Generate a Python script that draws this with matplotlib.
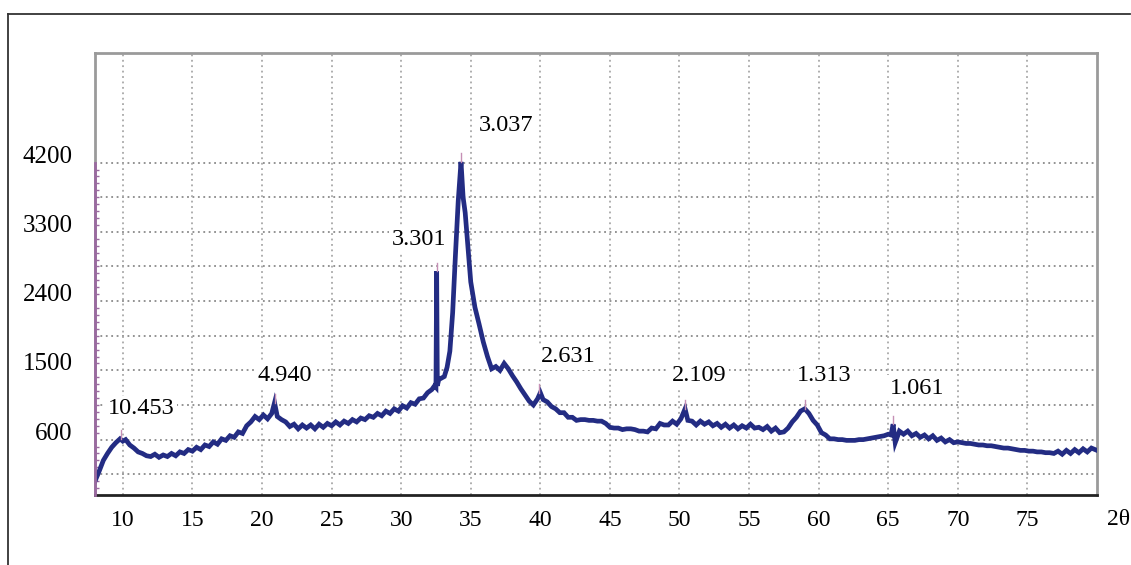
import matplotlib
matplotlib.use("Agg")
import matplotlib.pyplot as plt
from matplotlib.lines import Line2D
import numpy as np

# pattern (2theta, counts)
two_theta = [8.0, 8.3, 8.6, 8.9, 9.2, 9.5, 9.8, 10.0, 10.2, 10.5, 10.8, 11.1, 11.4, 11.7, 12.0,
             12.3, 12.6, 12.9, 13.2, 13.5, 13.8, 14.1, 14.4, 14.7, 15.0, 15.3, 15.6, 15.9, 16.2,
             16.5, 16.8, 17.1, 17.4, 17.7, 18.0, 18.3, 18.6, 18.9, 19.2, 19.5, 19.8, 20.1, 20.4,
             20.7, 20.9, 21.1, 21.4, 21.7, 22.0, 22.3, 22.6, 22.9, 23.2, 23.5, 23.8, 24.1, 24.4,
             24.7, 25.0, 25.3, 25.6, 25.9, 26.2, 26.5, 26.8, 27.1, 27.4, 27.7, 28.0, 28.3, 28.6,
             28.9, 29.2, 29.5, 29.8, 30.1, 30.4, 30.7, 31.0, 31.3, 31.6, 31.9, 32.2, 32.4, 32.5,
             32.55, 32.6, 32.7, 32.9, 33.1, 33.3, 33.5, 33.7, 33.9, 34.1, 34.3, 34.45, 34.6, 34.8,
             35.0, 35.3, 35.6, 35.9, 36.2, 36.5, 36.8, 37.1, 37.4, 37.7, 38.0, 38.3, 38.6, 38.9,
             39.2, 39.5, 39.8, 40.0, 40.2, 40.5, 40.8, 41.1, 41.4, 41.7, 42.0, 42.3, 42.6, 42.9,
             43.2, 43.5, 43.8, 44.1, 44.4, 44.7, 45.0, 45.3, 45.6, 45.9, 46.2, 46.5, 46.8, 47.1,
             47.4, 47.7, 48.0, 48.3, 48.6, 48.9, 49.2, 49.5, 49.8, 50.1, 50.4, 50.6, 50.9, 51.2,
             51.5, 51.8, 52.1, 52.4, 52.7, 53.0, 53.3, 53.6, 53.9, 54.2, 54.5, 54.8, 55.1, 55.4,
             55.7, 56.0, 56.3, 56.6, 56.9, 57.2, 57.5, 57.8, 58.1, 58.4, 58.7, 59.0, 59.3, 59.6,
             59.9, 60.2, 60.5, 60.8, 61.1, 61.4, 61.7, 62.0, 62.3, 62.6, 62.9, 63.2, 63.5, 63.8,
             64.1, 64.4, 64.7, 65.0, 65.2, 65.35, 65.5, 65.8, 66.1, 66.4, 66.7, 67.0, 67.3, 67.6,
             67.9, 68.2, 68.5, 68.8, 69.1, 69.4, 69.7, 70.0, 70.3, 70.6, 70.9, 71.2, 71.5, 71.8,
             72.1, 72.4, 72.7, 73.0, 73.3, 73.6, 73.9, 74.2, 74.5, 74.8, 75.1, 75.4, 75.7, 76.0,
             76.3, 76.6, 76.9, 77.2, 77.5, 77.8, 78.1, 78.4, 78.7, 79.0, 79.3, 79.6, 80.0]
counts = [60, 190, 330, 420, 500, 560, 610, 580, 600, 530, 490, 440, 420, 390, 380,
          410, 370, 400, 380, 420, 390, 440, 420, 470, 450, 500, 470, 530, 510,
          570, 540, 610, 590, 650, 630, 700, 680, 780, 830, 900, 860, 920, 870,
          940, 1080, 900, 860, 830, 770, 800, 740, 790, 750, 790, 740, 800, 760,
          810, 780, 830, 790, 840, 810, 860, 830, 880, 860, 910, 890, 940, 910,
          970, 940, 1000, 970, 1040, 1010, 1080, 1060, 1130, 1140, 1210, 1250, 1300, 1280,
          2790, 1300, 1380, 1400, 1420, 1540, 1750, 2250, 3000, 3700, 4210, 3750, 3550, 3100,
          2650, 2320, 2100, 1870, 1680, 1520, 1550, 1500, 1590, 1520, 1430, 1350, 1260, 1180,
          1100, 1050, 1130, 1210, 1120, 1090, 1030, 1000, 950, 950, 890, 890, 850, 860,
          860, 850, 850, 840, 840, 810, 760, 750, 750, 730, 740, 740, 730, 710,
          710, 700, 750, 740, 810, 790, 790, 840, 800, 870, 1000, 850, 840, 790,
          840, 800, 830, 780, 810, 760, 800, 750, 790, 740, 780, 750, 800, 750,
          760, 730, 770, 710, 750, 690, 700, 750, 830, 890, 970, 1000, 940, 850,
          790, 690, 660, 610, 610, 600, 600, 590, 590, 590, 600, 600, 610, 620,
          630, 640, 650, 670, 660, 800, 560, 710, 670, 710, 650, 680, 630, 660,
          610, 650, 590, 620, 570, 600, 560, 570, 560, 550, 550, 540, 530, 530,
          520, 520, 510, 500, 490, 490, 480, 470, 460, 460, 450, 450, 440, 440,
          430, 430, 420, 450, 410, 460, 420, 470, 430, 480, 440, 490, 460]

peak_labels = ["10.453", "4.940", "3.301", "3.037", "2.631", "2.109", "1.313", "1.061"]
label_x = [11.3, 21.6, 31.3, 37.55, 42.0, 51.4, 60.4, 67.05]
label_y = [1000, 1430, 3200, 4680, 1675, 1430, 1430, 1270]
peak_marks_x = [9.9, 20.9, 32.55, 34.3, 39.9, 50.4, 59.0, 65.35]
peak_marks_y = [610, 1080, 2790, 4210, 1210, 1000, 1000, 800]

x_ticks = list(range(10, 80, 5))
y_ticks = [600, 1500, 2400, 3300, 4200]
y_grid = list(range(150, 4201, 450))

plt.rcParams['font.family'] = ['Liberation Serif', 'DejaVu Serif']

fig = plt.figure(figsize=(11.31, 5.65), dpi=100)
ax = fig.add_axes([95 / 1131, 1 - 495 / 565, (1097 - 95) / 1131, (495 - 53) / 565])

# outer frame (top and left)
fig.add_artist(Line2D([8 / 1131, 1130 / 1131], [1 - 14 / 565, 1 - 14 / 565], color="#333333", lw=1.3))
fig.add_artist(Line2D([8 / 1131, 8 / 1131], [1 - 14 / 565, 0], color="#333333", lw=1.3))

gridc = "#8a8a8a"
for yg in y_grid:
    ax.axhline(yg, color=gridc, lw=1.3, ls=(0, (1, 2)), zorder=1)
for xg in x_ticks:
    ax.axvline(xg, color="#a8a8a8", lw=1.3, ls=(0, (1, 2)), zorder=1)

ax.plot(two_theta, counts, color="#232c83", lw=3.4, zorder=3, solid_joinstyle="miter")
for px, py in zip(peak_marks_x, peak_marks_y):
    ax.plot([px, px], [py, py + 110], color="#c58fb5", lw=1.0, zorder=4)

for t, tx, ty in zip(peak_labels, label_x, label_y):
    ax.text(tx, ty, t, ha="center", va="center", fontsize=17.5, zorder=5,
            bbox=dict(facecolor="white", edgecolor="none", pad=2))

ax.set_xlim(8, 80)
ax.set_ylim(-120, 5625)
ax.set_xticks(x_ticks)
ax.set_xticklabels([str(v) for v in x_ticks], fontsize=17)
ax.set_yticks(y_ticks)
ax.set_yticklabels([str(v) for v in y_ticks], fontsize=18, va="baseline")
ax.tick_params(axis="both", length=0)
ax.tick_params(axis="x", pad=11)
ax.tick_params(axis="y", pad=16)
ax.set_yticks(np.arange(-30, 4201, 90), minor=True)
ax.tick_params(axis="y", which="minor", direction="in", length=3, color="#9a6aa0", width=1)
ax.text(80.75, -300, "2θ", fontsize=17, ha="left", va="top")

for side in ["top", "right", "left"]:
    ax.spines[side].set_color("#9a9a9a")
    ax.spines[side].set_linewidth(2)
ax.spines["bottom"].set_color("#222222")
ax.spines["bottom"].set_linewidth(2)
ax.plot([8, 8], [-120, 4200], color="#9a6aa0", lw=2, clip_on=False, zorder=6)

fig.savefig("out.png", dpi=100)
